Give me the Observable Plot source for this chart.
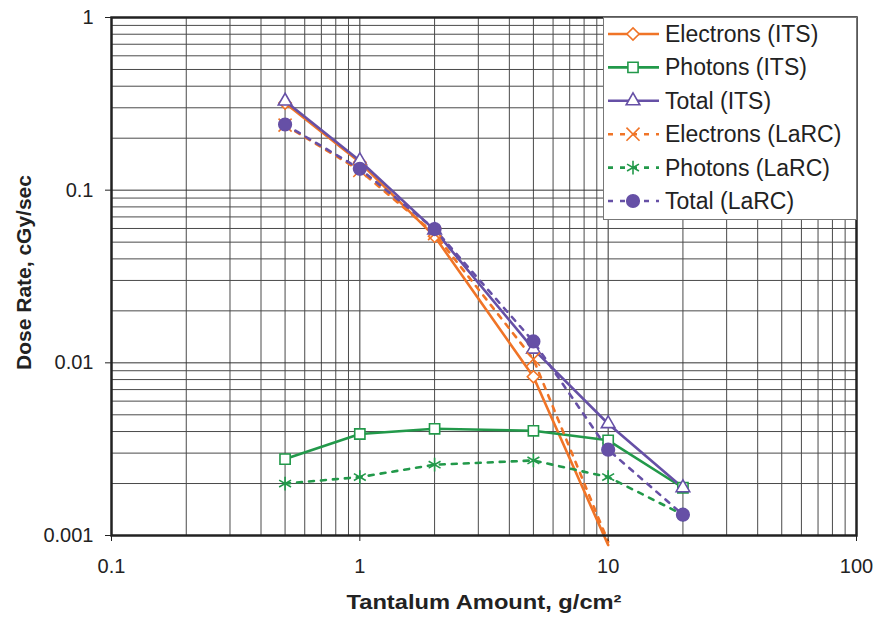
<!DOCTYPE html>
<html><head><meta charset="utf-8">
<script src="https://cdn.jsdelivr.net/npm/d3@7"></script>
<script src="https://cdn.jsdelivr.net/npm/@observablehq/plot@0.6"></script>
<style>
body{margin:0;background:#fff;}
#wrap{position:relative;width:878px;height:618px;font-family:"Liberation Sans",Arial,sans-serif;}
#legend{position:absolute;left:603px;top:17px;}
</style></head><body><div id="wrap"></div>
<script>
// ---- data ----
const thickness = [0.5, 1, 2, 5, 10, 20];
const electronsITS  = [0.32, 0.145, 0.054, 0.0083, 0.00088, null];
const photonsITS    = [0.00277, 0.00387, 0.00415, 0.00404, 0.00356, 0.00189];
const totalITS      = [0.328, 0.148, 0.0587, 0.0120, 0.00444, 0.00189];
const electronsLaRC = [0.238, 0.13, 0.056, 0.0105, 0.00092, null];
const photonsLaRC   = [0.0020, 0.00218, 0.00257, 0.00272, 0.00218, 0.00132];
const totalLaRC     = [0.240, 0.133, 0.0595, 0.0133, 0.00314, 0.00132];
const seriesNames = ["Electrons (ITS)", "Photons (ITS)", "Total (ITS)", "Electrons (LaRC)", "Photons (LaRC)", "Total (LaRC)"];
const xTicks = [0.1, 1, 10, 100];
const yTicks = [0.001, 0.01, 0.1, 1];
const xTickLabels = ["0.1", "1", "10", "100"];
const yTickLabels = ["0.001", "0.01", "0.1", "1"];

const ORANGE = "#F07427", GREEN = "#22994A", PURPLE = "#6650A6";
const styles = [
  {name: seriesNames[0], vals: electronsITS,  color: ORANGE, symbol: "diamond2",  dash: null, fill: "white", r: 5.5},
  {name: seriesNames[1], vals: photonsITS,    color: GREEN,  symbol: "square2",   dash: null, fill: "white", r: 6.5},
  {name: seriesNames[2], vals: totalITS,      color: PURPLE, symbol: "triangle2", dash: null, fill: "white", r: 6.5},
  {name: seriesNames[3], vals: electronsLaRC, color: ORANGE, symbol: "times",     dash: "5,7", fill: "none", r: 6},
  {name: seriesNames[4], vals: photonsLaRC,   color: GREEN,  symbol: "asterisk",  dash: "5,7", fill: "none", r: 6.5},
  {name: seriesNames[5], vals: totalLaRC,     color: PURPLE, symbol: "circle",    dash: "5,7", fill: PURPLE, r: 6.3}
];

const minor = (decades) => decades.flatMap(d => d3.range(2, 10).map(k => k * d));
const minorX = minor([0.1, 1, 10]);
const minorY = minor([0.001, 0.01, 0.1]);

const marks = [
  Plot.ruleX(minorX, {stroke: "#4a4a4a", strokeWidth: 1}),
  Plot.ruleX([1, 10], {stroke: "#333", strokeWidth: 1}),
  Plot.ruleY(minorY, {stroke: "#4a4a4a", strokeWidth: 1}),
  Plot.ruleY([0.01, 0.1], {stroke: "#333", strokeWidth: 1}),
];
for (const s of styles) {
  const rows = thickness.map((x, i) => ({x, y: s.vals[i]})).filter(d => d.y != null);
  marks.push(Plot.line(rows, {x: "x", y: "y", stroke: s.color, strokeWidth: 2.6, strokeDasharray: s.dash ?? undefined}));
}
for (const s of styles) {
  const rows = thickness.map((x, i) => ({x, y: s.vals[i]})).filter(d => d.y != null && d.y >= 0.001);
  marks.push(Plot.dot(rows, {x: "x", y: "y", symbol: () => s.symbol, r: s.r, stroke: s.color, fill: s.fill, strokeWidth: 1.6}));
}
marks.push(
  Plot.frame({stroke: "#222", strokeWidth: 2.5}),
  Plot.axisX({ticks: xTicks, tickFormat: (d) => xTickLabels[xTicks.indexOf(d)], tickSize: 6, tickPadding: 17, fontSize: 20, label: null, stroke: "#222", color: "#222"}),
  Plot.axisY({ticks: yTicks, tickFormat: (d) => yTickLabels[yTicks.indexOf(d)], tickSize: 6, tickPadding: 12, fontSize: 20, label: null, color: "#222"}),
  Plot.text(["Tantalum Amount, g/cm²"], {frameAnchor: "bottom", dy: 67, fontSize: 21, fontWeight: "bold", fill: "#222", lineAnchor: "middle", textAnchor: "middle"}),
  Plot.text(["Dose Rate, cGy/sec"], {frameAnchor: "left", dx: -87, dy: -4, rotate: -90, fontSize: 21, fontWeight: "bold", fill: "#222", lineAnchor: "middle", textAnchor: "middle"})
);

const chart = Plot.plot({
  width: 878, height: 618,
  marginLeft: 111, marginRight: 22, marginTop: 17, marginBottom: 83,
  x: {type: "log", domain: [0.1, 100]},
  y: {type: "log", domain: [0.001, 1]},
  style: {fontFamily: "Liberation Sans, Arial, sans-serif", background: "white"},
  marks
});
// widen the x title slightly, as in the reference
for (const t of chart.querySelectorAll("text")) {
  if (t.textContent.startsWith("Tantalum")) {
    t.setAttribute("textLength", 275);
    t.setAttribute("lengthAdjust", "spacingAndGlyphs");
  }
}
const wrap = document.getElementById("wrap");
wrap.appendChild(chart);

// ---- legend overlay ----
const LW = 254, LH = 203;
const leg = d3.create("svg").attr("id", "legend").attr("width", LW).attr("height", LH);
leg.append("rect").attr("x", 0.5).attr("y", 0.5).attr("width", LW - 1).attr("height", LH - 1)
  .attr("fill", "white").attr("stroke", "#777").attr("stroke-width", 1);
const symMap = {diamond2: d3.symbolDiamond2, square2: d3.symbolSquare2, triangle2: d3.symbolTriangle2,
  times: d3.symbolTimes, asterisk: d3.symbolAsterisk, circle: d3.symbolCircle};
styles.forEach((s, i) => {
  const y = 17 + i * 33.4;
  const g = leg.append("g").attr("transform", `translate(0,${y})`);
  g.append("line").attr("x1", 5).attr("x2", 56).attr("y1", 0).attr("y2", 0)
    .attr("stroke", s.color).attr("stroke-width", 2.6).attr("stroke-dasharray", s.dash);
  g.append("path").attr("transform", "translate(30,0)")
    .attr("d", d3.symbol(symMap[s.symbol], Math.PI * s.r * s.r)())
    .attr("fill", s.fill).attr("stroke", s.color).attr("stroke-width", 1.6);
  g.append("text").attr("x", 62).attr("y", 0).attr("dy", "0.35em").attr("font-size", 23)
    .attr("fill", "#222").attr("font-family", "Liberation Sans, Arial, sans-serif").text(s.name);
});
wrap.appendChild(leg.node());
</script></body></html>
